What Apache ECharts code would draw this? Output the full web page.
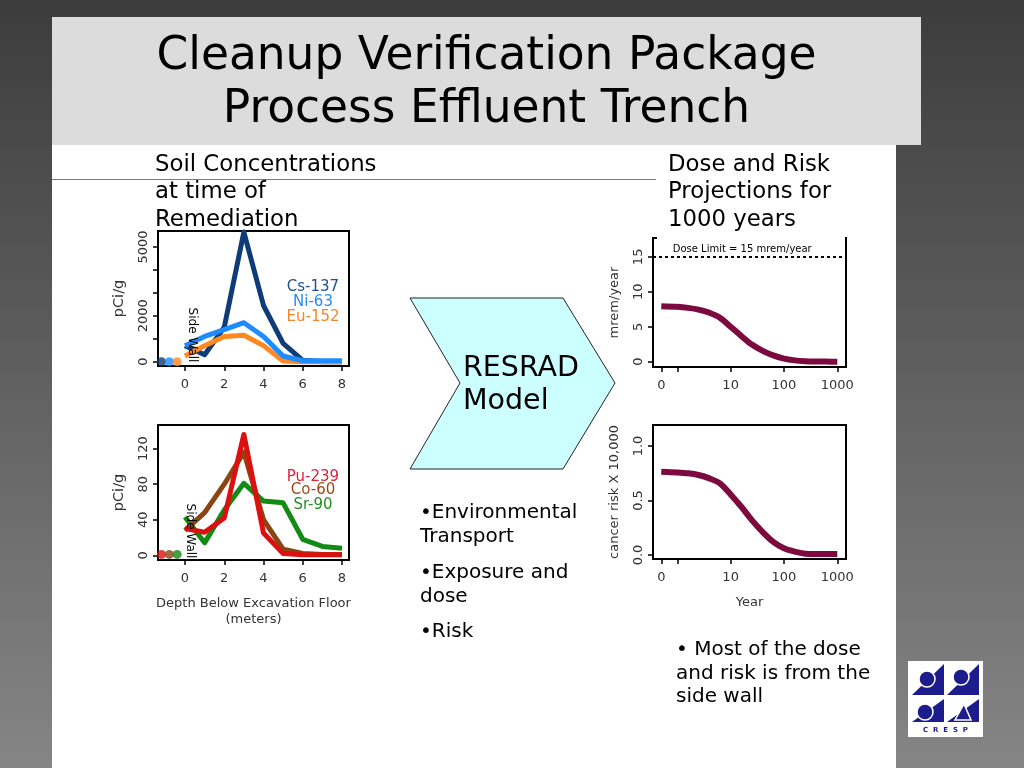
<!DOCTYPE html>
<html><head><meta charset="utf-8">
<script src="https://cdn.jsdelivr.net/npm/echarts@6/dist/echarts.min.js"></script>
<style>html,body{margin:0;padding:0;background:#555}#c{width:1024px;height:768px}</style>
</head><body><div id="c"></div>
<script>
// ---- Soil concentrations (depth below excavation floor, meters) ----
const depthM = [0, 1, 2, 3, 4, 5, 6, 7, 8];
const cs137 = [700, 300, 1500, 5650, 2450, 800, 60, 0, 0];
const ni63  = [700, 1100, 1400, 1700, 1100, 250, 40, 40, 40];
const eu152 = [250, 700, 1100, 1150, 700, 30, 0, 0, 0];
const pu239 = [30, 26, 42, 136, 25, 2, 0.5, 0.5, 0.5];
const co60  = [28, 48, 80, 116, 40, 7, 2, 1, 1];
const sr90  = [43, 14, 51, 81, 61, 59, 18, 10, 8];
// side wall points (plotted left of 0)
const sideWallX = [-1.2, -0.8, -0.4];
const sideWallTop = [0, 0, 0];      // Cs-137, Ni-63, Eu-152
const sideWallBottom = [1, 1, 1];   // Pu-239, Co-60, Sr-90
// ---- Dose and risk projections (first point is year "0") ----
const years = [0.5, 1, 1.6, 2.5, 4, 6.3, 10, 16, 25, 40, 63, 100, 160, 250, 400, 630, 1000];
const dose  = [7.95, 7.86, 7.7, 7.45, 7.0, 6.3, 5.0, 3.65, 2.45, 1.55, 0.9, 0.43, 0.19, 0.08, 0.03, 0.01, 0];
const risk  = [0.765, 0.758, 0.75, 0.734, 0.703, 0.657, 0.555, 0.44, 0.32, 0.21, 0.12, 0.061, 0.03, 0.012, 0.008, 0.008, 0.008];
const doseLimit = 15;
// ---- ticks ----
const depthTicks = [0, 2, 4, 6, 8];
const topYTicks = [0, 1000, 2000, 3000, 4000, 5000];
const topYLabels = [0, 2000, 5000];
const botYTicks = [0, 40, 80, 120];
const doseYTicks = [0, 5, 10, 15];
const riskYTicks = [0, 0.5, 1.0];
const yearTicks = [0.5, 1, 10, 100, 1000];
const yearLabels = [0.5, 10, 100, 1000];

const FONT = 'DejaVu Sans';
const tickStyle = {show: true, length: 5, lineStyle: {color: '#000', width: 1.5}};
const lblStyle = {fontSize: 13, color: '#333', fontFamily: FONT};

function depthAxis(gi, extra) {
  return Object.assign({
    type: 'value', gridIndex: gi, min: -1.376, max: 8.357,
    axisLine: {show: false, onZero: false}, splitLine: {show: false},
    axisTick: Object.assign({customValues: depthTicks}, tickStyle),
    axisLabel: Object.assign({customValues: depthTicks, margin: 12, formatter: v => String(v)}, lblStyle)
  }, extra || {});
}
function yearAxis(gi, extra) {
  return Object.assign({
    type: 'log', logBase: 10, gridIndex: gi, min: 0.35, max: 1456,
    axisLine: {show: false, onZero: false}, splitLine: {show: false}, minorTick: {show: false},
    axisTick: Object.assign({customValues: yearTicks}, tickStyle),
    axisLabel: Object.assign({customValues: yearLabels, margin: 12,
      formatter: v => v < 1 ? '0' : String(Math.round(v))}, lblStyle)
  }, extra || {});
}
function yAxis(gi, min, max, ticks, labels, name, nameSize, nameGap, fmt) {
  return {
    type: 'value', gridIndex: gi, min: min, max: max,
    axisLine: {show: false, onZero: false}, splitLine: {show: false},
    axisTick: Object.assign({customValues: ticks}, tickStyle),
    axisLabel: Object.assign({customValues: labels, rotate: 90, margin: 8, formatter: fmt || (v => String(v))}, lblStyle),
    name: name, nameLocation: 'middle', nameRotate: 90, nameGap: nameGap,
    nameTextStyle: {fontSize: nameSize, color: '#333', fontFamily: FONT}
  };
}
function pairs(xs, ys) { return xs.map((x, i) => [x, ys[i]]); }
function lineS(gi, xs, ys, color, width) {
  return {type: 'line', xAxisIndex: gi, yAxisIndex: gi, data: pairs(xs, ys), symbol: 'none',
    lineStyle: {color: color, width: width, join: 'round'}, itemStyle: {color: color}, silent: true};
}
function dotS(gi, x, y, color) {
  return {type: 'scatter', xAxisIndex: gi, yAxisIndex: gi, data: [[x, y]], symbolSize: 9,
    itemStyle: {color: color}, silent: true, z: 4};
}

const C = {cs: '#0e3c78', ni: '#1e8bff', eu: '#ff8820', pu: '#dd1010', co: '#8b4513', sr: '#138a13', dose: '#7d0a3f'};
const gridBase = {show: true, borderColor: '#000', borderWidth: 2, containLabel: false};

function txt(x, y, text, size, color, align, extra) {
  return Object.assign({type: 'text', x: x, y: y, z: 30, style: {text: text, fontSize: size, fontFamily: FONT,
    fill: color, align: align || 'left', verticalAlign: 'middle', textAlign: align || 'left', textVerticalAlign: 'middle'}}, extra || {});
}
const BLUE = '#1c1c8c';
const option = {
  animation: false,
  backgroundColor: new echarts.graphic.LinearGradient(0, 0, 0, 1, [{offset: 0, color: '#3c3c3c'}, {offset: 1, color: '#858585'}]),
  textStyle: {fontFamily: FONT},
  grid: [
    Object.assign({left: 158, top: 231, width: 191, height: 135}, gridBase),
    Object.assign({left: 158, top: 425, width: 191, height: 135}, gridBase),
    Object.assign({left: 653, top: 238, width: 193, height: 129}, gridBase),
    Object.assign({left: 653, top: 425, width: 193, height: 134}, gridBase)
  ],
  xAxis: [
    depthAxis(0),
    depthAxis(1, {name: 'Depth Below Excavation Floor\n(meters)', nameLocation: 'middle', nameGap: 36,
      nameTextStyle: {fontSize: 13, lineHeight: 16, color: '#333', fontFamily: FONT}}),
    yearAxis(2),
    yearAxis(3, {name: 'Year', nameLocation: 'middle', nameGap: 37,
      nameTextStyle: {fontSize: 13, color: '#333', fontFamily: FONT}})
  ],
  yAxis: [
    yAxis(0, -187, 5695, topYTicks, topYLabels, 'pCi/g', 14.5, 31),
    yAxis(1, -5.3, 146.6, botYTicks, botYTicks, 'pCi/g', 14.5, 31),
    yAxis(2, -0.76, 17.7, doseYTicks, doseYTicks, 'mrem/year', 13, 31.5),
    yAxis(3, -0.037, 1.193, riskYTicks, riskYTicks, 'cancer risk X 10,000', 13, 31.5, v => v.toFixed(1))
  ],
  series: [
    lineS(0, depthM, cs137, C.cs, 5),
    lineS(0, depthM, eu152, C.eu, 5),
    lineS(0, depthM, ni63, C.ni, 5),
    dotS(0, sideWallX[0], sideWallTop[0], C.cs),
    dotS(0, sideWallX[1], sideWallTop[1], C.ni),
    dotS(0, sideWallX[2], sideWallTop[2], C.eu),
    lineS(1, depthM, sr90, C.sr, 5),
    lineS(1, depthM, co60, C.co, 5),
    lineS(1, depthM, pu239, C.pu, 5),
    dotS(1, sideWallX[0], sideWallBottom[0], C.pu),
    dotS(1, sideWallX[1], sideWallBottom[1], C.co),
    dotS(1, sideWallX[2], sideWallBottom[2], C.sr),
    Object.assign(lineS(2, years, dose, C.dose, 6), {smooth: 0.3,
      markLine: {silent: true, symbol: 'none', label: {show: false},
        lineStyle: {color: '#000', width: 2, type: [3, 3]}, data: [{yAxis: doseLimit}]}}),
    Object.assign(lineS(3, years, risk, C.dose, 6), {smooth: 0.3})
  ],
  graphic: {elements: [
    {type: 'rect', z: -10, shape: {x: 52, y: 17, width: 869, height: 128}, style: {fill: '#dcdcdc'}},
    {type: 'rect', z: -10, shape: {x: 52, y: 145, width: 844, height: 623}, style: {fill: '#ffffff'}},
    {type: 'line', z: -9, shape: {x1: 52, y1: 179.5, x2: 656, y2: 179.5}, style: {stroke: '#7a7a7a', lineWidth: 1}},
    txt(486.5, 57, 'Cleanup Verification Package', 45.5, '#000', 'center'),
    txt(486.5, 110, 'Process Effluent Trench', 45.5, '#000', 'center'),
    txt(155, 165, 'Soil Concentrations', 22.8, '#000'),
    txt(155, 192.5, 'at time of', 22.8, '#000'),
    txt(155, 220, 'Remediation', 22.8, '#000'),
    {type: 'rect', z: 20, shape: {x: 657, y: 146, width: 188, height: 93.5}, style: {fill: '#ffffff'}},
    txt(668, 165, 'Dose and Risk', 22.8, '#000'),
    txt(668, 192.5, 'Projections for', 22.8, '#000'),
    txt(668, 220, '1000 years', 22.8, '#000'),
    {type: 'polygon', z: -8, shape: {points: [[410, 298], [563, 298], [615, 383], [563, 469], [410, 469], [460, 383]]},
      style: {fill: '#ccffff', stroke: '#222', lineWidth: 1}},
    txt(463, 368.5, 'RESRAD', 28.5, '#000'),
    txt(463, 401.5, 'Model', 28.5, '#000'),
    txt(420, 513, '\u2022Environmental', 20, '#000'),
    txt(420, 537, 'Transport', 20, '#000'),
    txt(420, 573, '\u2022Exposure and', 20, '#000'),
    txt(420, 597, 'dose', 20, '#000'),
    txt(420, 632, '\u2022Risk', 20, '#000'),
    txt(676, 650, '\u2022 Most of the dose', 20, '#000'),
    txt(676, 674, 'and risk is from the', 20, '#000'),
    txt(676, 697, 'side wall', 20, '#000'),
    // in-chart labels
    txt(313, 287, 'Cs-137', 15, '#1f4f8f', 'center'),
    txt(313, 302, 'Ni-63', 15, '#2b8cf0', 'center'),
    txt(313, 317, 'Eu-152', 15, '#f5862a', 'center'),
    txt(313, 477, 'Pu-239', 15, '#e0203a', 'center'),
    txt(313, 490.5, 'Co-60', 15, '#9a4a1a', 'center'),
    txt(313, 505, 'Sr-90', 15, '#239023', 'center'),
    txt(192, 335, 'Side Wall', 12, '#000', 'center', {rotation: -Math.PI / 2}),
    txt(190, 531, 'Side Wall', 12, '#000', 'center', {rotation: -Math.PI / 2}),
    txt(672.7, 249, 'Dose Limit = 15 mrem/year', 10, '#000'),
    // CRESP logo
    {type: 'rect', z: 30, shape: {x: 908, y: 661, width: 75, height: 76}, style: {fill: '#ffffff'}},
    {type: 'polygon', z: 31, shape: {points: [[912, 695], [944, 695], [944, 664]]}, style: {fill: BLUE}},
    {type: 'circle', z: 32, shape: {cx: 927, cy: 679, r: 8}, style: {fill: BLUE, stroke: '#fff', lineWidth: 1.5}},
    {type: 'polygon', z: 31, shape: {points: [[947, 695], [979, 695], [979, 664]]}, style: {fill: BLUE}},
    {type: 'circle', z: 32, shape: {cx: 961, cy: 677, r: 8}, style: {fill: BLUE, stroke: '#fff', lineWidth: 1.5}},
    {type: 'polygon', z: 31, shape: {points: [[912, 722], [944, 722], [944, 699]]}, style: {fill: BLUE}},
    {type: 'circle', z: 32, shape: {cx: 925, cy: 712, r: 8}, style: {fill: BLUE, stroke: '#fff', lineWidth: 1.5}},
    {type: 'polygon', z: 31, shape: {points: [[947, 722], [979, 722], [979, 699]]}, style: {fill: BLUE}},
    {type: 'polygon', z: 32, shape: {points: [[955, 720], [971, 720], [964, 704]]}, style: {fill: BLUE, stroke: '#fff', lineWidth: 1.5}},
    {type: 'text', z: 32, x: 945.5, y: 730, style: {text: 'C  R  E  S  P', fontSize: 7, fontWeight: 'bold', fontFamily: FONT,
      fill: BLUE, align: 'center', verticalAlign: 'middle', textAlign: 'center', textVerticalAlign: 'middle'}}
  ]}
};
const chart = echarts.init(document.getElementById('c'), null, {renderer: 'canvas'});
chart.setOption(option);
</script>
</body></html>
